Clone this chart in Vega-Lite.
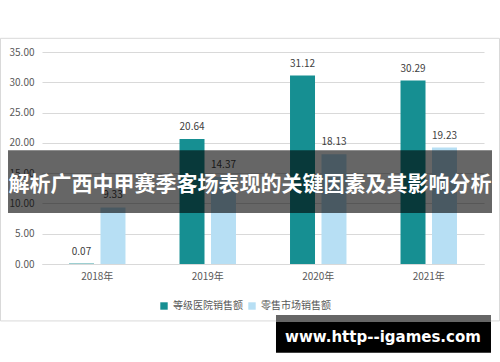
{
  "$schema": "https://vega.github.io/schema/vega-lite/v6.json",
  "width": 442,
  "height": 212,
  "autosize": {"type": "none"},
  "padding": {"left": 42, "top": 52, "right": 16, "bottom": 98},
  "background": "white",
  "config": {
    "view": {"stroke": null},
    "font": "Noto Sans CJK SC",
    "axis": {"labelFont": "Noto Sans CJK SC", "labelFontSize": 10, "labelColor": "#595959"},
    "axisY": {"title": null, "format": ".2f", "labelOverlap": false, "gridColor": "#d9d9d9", "domain": false, "ticks": false, "labelPadding": 8},
    "legend": {"labelFont": "Noto Sans CJK SC"}
  },
  "resolve": {"scale": {"x": "independent"}, "axis": {"x": "independent"}},
  "layer": [
    {
      "data": {
        "values": [
          {"年份": "2018年", "类型": "等级医院销售额", "销售额": 0.07},
          {"年份": "2018年", "类型": "零售市场销售额", "销售额": 9.33},
          {"年份": "2019年", "类型": "等级医院销售额", "销售额": 20.64},
          {"年份": "2019年", "类型": "零售市场销售额", "销售额": 14.37},
          {"年份": "2020年", "类型": "等级医院销售额", "销售额": 31.12},
          {"年份": "2020年", "类型": "零售市场销售额", "销售额": 18.13},
          {"年份": "2021年", "类型": "等级医院销售额", "销售额": 30.29},
          {"年份": "2021年", "类型": "零售市场销售额", "销售额": 19.23}
        ]
      },
      "encoding": {
        "x": {
          "field": "年份", "type": "nominal",
          "scale": {"paddingInner": 0.489, "paddingOuter": 0.2445},
          "axis": {"title": null, "labelAngle": 0, "ticks": false, "domainColor": "#d9d9d9", "labelPadding": 7}
        },
        "xOffset": {
          "field": "类型", "type": "nominal",
          "scale": {"domain": ["等级医院销售额", "零售市场销售额"], "paddingInner": 0.206, "paddingOuter": 0}
        },
        "y": {
          "field": "销售额", "type": "quantitative",
          "scale": {"domain": [0, 35], "nice": false, "zero": true},
          "axis": {"values": [0, 5, 10, 15, 20, 25, 30, 35]}
        }
      },
      "layer": [
        {
          "mark": {"type": "bar"},
          "encoding": {
            "color": {
              "field": "类型", "type": "nominal",
              "scale": {"domain": ["等级医院销售额", "零售市场销售额"], "range": ["#168f92", "#b7dff4"]},
              "legend": {"title": null, "orient": "none", "legendX": 117, "legendY": 249, "direction": "horizontal", "symbolType": "square", "symbolSize": 55, "labelFontSize": 10, "labelColor": "#595959", "columnPadding": 4, "symbolStrokeWidth": 0}
            }
          }
        },
        {
          "mark": {"type": "text", "baseline": "bottom", "dy": -7, "fontSize": 10, "color": "#404040"},
          "encoding": {
            "text": {"field": "销售额", "type": "quantitative", "format": ".2f"}
          }
        }
      ]
    },
    {
      "data": {"values": [{}]},
      "mark": {"type": "rect", "fill": null, "stroke": "#d9d9d9", "strokeWidth": 1},
      "encoding": {
        "x": {"datum": -0.0939, "type": "quantitative", "scale": {"domain": [0, 1], "nice": false, "zero": false}, "axis": null},
        "x2": {"datum": 1.0351},
        "y": {"datum": 37.26, "type": "quantitative", "axis": {"values": [0, 5, 10, 15, 20, 25, 30, 35]}},
        "y2": {"datum": -9.4}
      }
    },
    {
      "data": {"values": [{}]},
      "mark": {"type": "rect", "fill": "black", "opacity": 0.6},
      "encoding": {
        "x": {"datum": -0.0769, "type": "quantitative", "scale": {"domain": [0, 1], "nice": false, "zero": false}, "axis": null},
        "x2": {"datum": 1.0181},
        "y": {"datum": 18.79, "type": "quantitative", "axis": {"values": [0, 5, 10, 15, 20, 25, 30, 35]}},
        "y2": {"datum": 8.41}
      }
    },
    {
      "data": {"values": [{"t": "解析广西中甲赛季客场表现的关键因素及其影响分析"}]},
      "mark": {"type": "text", "color": "white", "fontSize": 21, "fontWeight": "bold", "align": "center", "baseline": "middle"},
      "encoding": {
        "x": {"datum": 0.4706, "type": "quantitative", "scale": {"domain": [0, 1], "nice": false, "zero": false}, "axis": null},
        "y": {"datum": 13.0, "type": "quantitative", "axis": {"values": [0, 5, 10, 15, 20, 25, 30, 35]}},
        "text": {"field": "t"}
      }
    },
    {
      "data": {"values": [{}]},
      "mark": {"type": "rect", "fill": "black"},
      "encoding": {
        "x": {"datum": 0.5294, "type": "quantitative", "scale": {"domain": [0, 1], "nice": false, "zero": false}, "axis": null},
        "x2": {"datum": 1.0158},
        "y": {"datum": -9.56, "type": "quantitative", "axis": {"values": [0, 5, 10, 15, 20, 25, 30, 35]}},
        "y2": {"datum": -14.67}
      }
    },
    {
      "data": {"values": [{}]},
      "mark": {"type": "rect", "fill": "#666666"},
      "encoding": {
        "x": {"datum": 0.5294, "type": "quantitative", "scale": {"domain": [0, 1], "nice": false, "zero": false}, "axis": null},
        "x2": {"datum": 1.0158},
        "y": {"datum": -8.41, "type": "quantitative", "axis": {"values": [0, 5, 10, 15, 20, 25, 30, 35]}},
        "y2": {"datum": -9.56}
      }
    },
    {
      "data": {"values": [{"t": "www.http--igames.com"}]},
      "mark": {"type": "text", "color": "white", "fontSize": 15, "fontWeight": "bold", "font": "DejaVu Sans", "align": "center", "baseline": "middle"},
      "encoding": {
        "x": {"datum": 0.7715, "type": "quantitative", "scale": {"domain": [0, 1], "nice": false, "zero": false}, "axis": null},
        "y": {"datum": -12.03, "type": "quantitative", "axis": {"values": [0, 5, 10, 15, 20, 25, 30, 35]}},
        "text": {"field": "t"}
      }
    }
  ]
}
